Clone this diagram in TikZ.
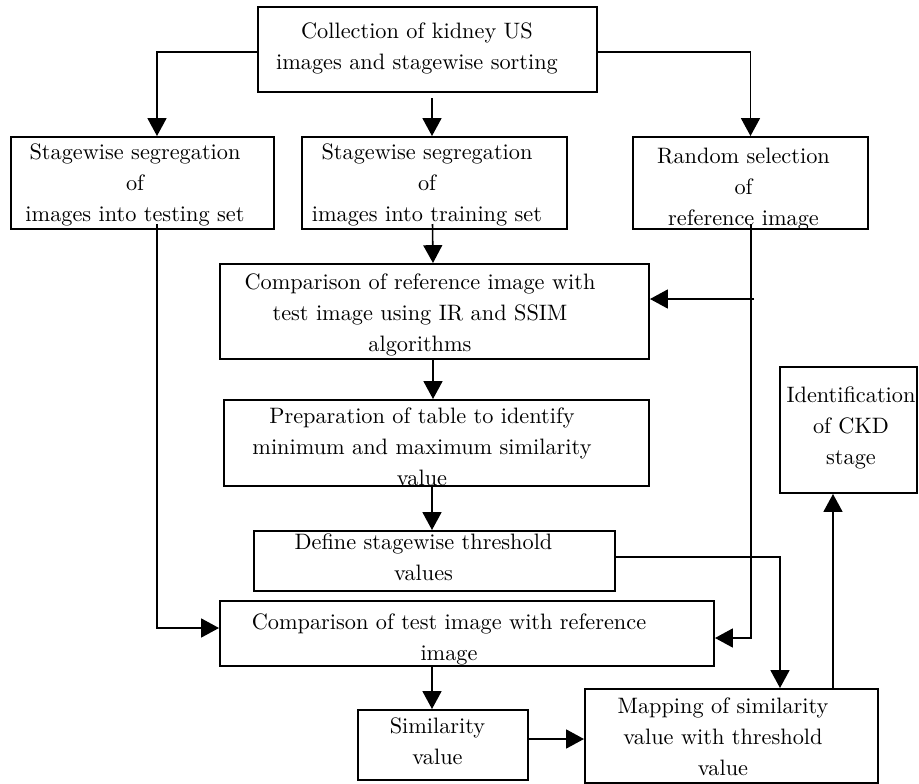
\documentclass[tikz,border=0pt]{standalone}
\usetikzlibrary{arrows.meta,calc,fit}
\begin{document}
\begin{tikzpicture}[x=0.4484pt,y=-0.4484pt,
  box/.style={draw, line width=0.9pt, inner sep=0pt},
  lbl/.style={anchor=base, text width=220pt, align=center, inner sep=0pt, font=\fontsize{10}{14.1}\selectfont},
  arr/.style={line width=0.7pt, -{Triangle[length=8pt,width=8.5pt]}},
  ln/.style={line width=0.7pt}]
\useasboundingbox (0,0) rectangle (919,784);
% boxes
\node[box, fit={(258,7) (597,92)}] (top) {};
\node[box, fit={(11,137) (274,229)}] (test) {};
\node[box, fit={(302,137) (567,229)}] (train) {};
\node[box, fit={(633,137) (868,229)}] (rand) {};
\node[box, fit={(220,264) (649,359)}] (comp1) {};
\node[box, fit={(224,400) (649,486)}] (prep) {};
\node[box, fit={(254,531) (615,591)}] (def) {};
\node[box, fit={(220,601) (714,666)}] (comp2) {};
\node[box, fit={(358,710) (528,780)}] (sim) {};
\node[box, fit={(585,689) (878,783)}] (map) {};
\node[box, fit={(780,367) (917,493)}] (ident) {};
% texts
\node[lbl] (ttop) at (417,38) {Collection of kidney US\\images and stagewise sorting};
\node[lbl] (ttest) at (135,159) {Stagewise segregation\\of\\images into testing set};
\node[lbl] (ttrain) at (427,159) {Stagewise segregation\\of\\images into training set};
\node[lbl] (trand) at (743.5,163) {Random selection\\of\\reference image};
\node[lbl] (tcomp1) at (420,289) {Comparison of reference image with\\test image using IR and SSIM\\algorithms};
\node[lbl] (tprep) at (422,423) {Preparation of table to identify\\minimum and maximum similarity\\value};
\node[lbl] (tdef) at (423.5,549) {Define stagewise threshold\\values};
\node[lbl] (tcomp2) at (449,629) {Comparison of test image with reference\\image};
\node[lbl] (tsim) at (437.5,733) {Similarity\\value};
\node[lbl] (tmap) at (723,713) {Mapping of similarity\\value with threshold\\value};
\node[lbl] (tident) at (851,402) {Identification\\of CKD\\stage};
% connectors
\draw[arr] ($(top.west)+(0,2.5)$) -| ($(test.north)+(14.5,0)$);
\draw[arr] ($(top.south)+(4.5,5)$) -- ($(train.north)+(-2.5,0)$);
\draw[arr] ($(top.east)+(0,2.5)$) -| (rand.north);
\draw[arr] ($(train.south)+(-2,-6)$) -- ($(comp1.north)+(-1.5,0)$);
\draw[arr] ($(rand.south)+(0.5,-6)$) |- ($(comp2.east)+(0,4.5)$);
\coordinate (br) at (754,299);
\draw[arr] (br) -- ($(comp1.east)+(0,-12.5)$);
\draw[arr] ($(comp1.south)+(-1.5,0)$) -- ($(prep.north)+(-3.5,0)$);
\draw[arr] ($(prep.south)+(-4.5,0)$) -- ($(def.north)+(-2.5,0)$);
\draw[arr] ($(test.south)+(14.5,-6)$) |- ($(comp2.west)+(0,-5.5)$);
\draw[arr] ($(def.east)+(0,-4)$) -| ($(map.north)+(48.5,0)$);
\draw[arr] ($(comp2.south)+(-35,0)$) -- ($(sim.north)+(-11,0)$);
\draw[arr] ($(sim.east)+(0,-6)$) -- ($(map.west)+(0,3)$);
\draw[arr] ($(map.north)+(101.5,0)$) -- ($(ident.south)+(-15.5,0)$);
\end{tikzpicture}
\end{document}
